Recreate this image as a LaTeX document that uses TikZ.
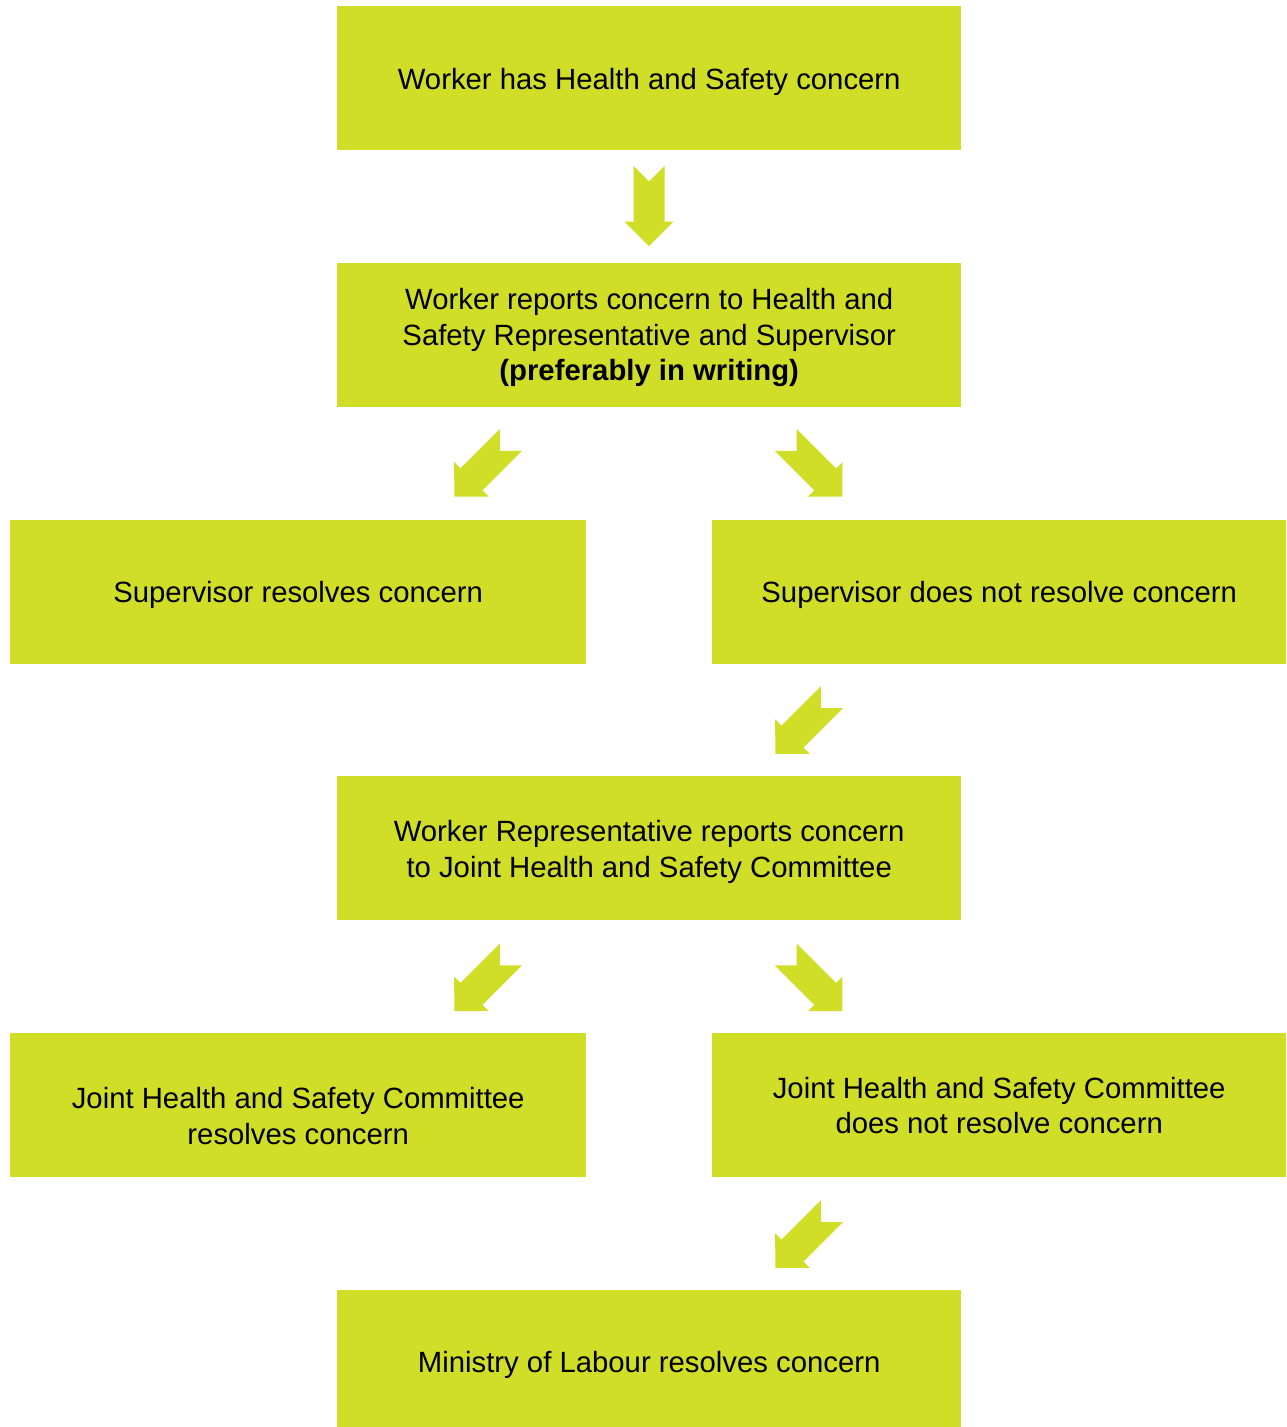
\documentclass[tikz,border=0pt]{standalone}
\usepackage{fontspec}
\setmainfont{Liberation Sans}
\definecolor{lime}{RGB}{208,222,40}
\newcommand\lowertext[2]{\raisebox{-#1}[\height][\depth]{\begin{tabular}{@{}c@{}}#2\end{tabular}}}
\begin{document}
\begin{tikzpicture}[x=1pt,y=-1pt,
  box/.style={fill=lime,inner sep=0pt,align=center,anchor=north west,
    font=\fontsize{29.3}{35.5}\selectfont},
  flowarrow/.pic={\fill[lime] (-15.5,-40) -- (0,-24.5) -- (15.5,-40) -- (15.5,15.7) -- (24.5,15.7) -- (0,40) -- (-24.5,15.7) -- (-15.5,15.7) -- cycle;}
]
\useasboundingbox (0,0) rectangle (1286,1427);
\node[box,minimum width=624pt,minimum height=144pt] (worker) at (337,6) {\lowertext{4pt}{Worker has Health and Safety concern}};
\node[box,minimum width=624pt,minimum height=144pt] (report) at (337,263) {\lowertext{3pt}{Worker reports concern to Health and\\Safety Representative and Supervisor\\\textbf{(preferably in writing)}}};
\node[box,minimum width=576pt,minimum height=144pt] (supres) at (10,520) {\lowertext{3pt}{Supervisor resolves concern}};
\node[box,minimum width=574pt,minimum height=144pt] (supnot) at (712,520) {\lowertext{3pt}{Supervisor does not resolve concern}};
\node[box,minimum width=624pt,minimum height=144pt] (jhsc) at (337,776) {\lowertext{4pt}{Worker Representative reports concern\\to Joint Health and Safety Committee}};
\node[box,minimum width=576pt,minimum height=144pt] (jres) at (10,1033) {\lowertext{14pt}{Joint Health and Safety Committee\\resolves concern}};
\node[box,minimum width=574pt,minimum height=144pt] (jnot) at (712,1033) {\lowertext{3.5pt}{Joint Health and Safety Committee\\does not resolve concern}};
\node[box,minimum width=624pt,minimum height=137pt] (mol) at (337,1290) {\lowertext{7pt}{Ministry of Labour resolves concern}};
\coordinate (a1) at (649,206);
\coordinate (a2) at (482.6,468.3);
\coordinate (a3) at (814,468.3);
\coordinate (a4) at (803.6,725.5);
\coordinate (a5) at (482.6,982.8);
\coordinate (a6) at (814,982.8);
\coordinate (a7) at (803.6,1239.5);
\pic at (a1) {flowarrow};
\pic[rotate=-45] at (a2) {flowarrow};
\pic[rotate=45] at (a3) {flowarrow};
\pic[rotate=-45] at (a4) {flowarrow};
\pic[rotate=-45] at (a5) {flowarrow};
\pic[rotate=45] at (a6) {flowarrow};
\pic[rotate=-45] at (a7) {flowarrow};
\end{tikzpicture}
\end{document}
